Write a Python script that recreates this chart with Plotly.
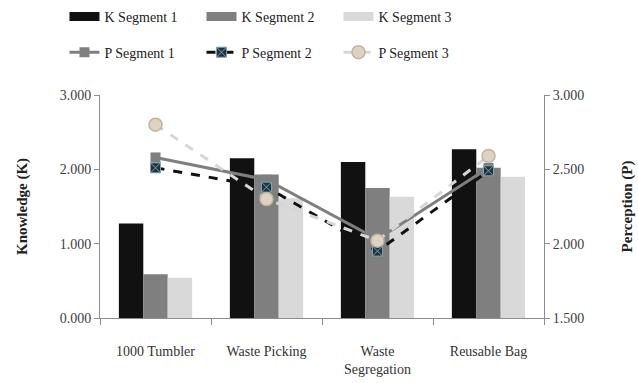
import plotly.graph_objects as go

categories = ["1000 Tumbler", "Waste Picking", "Waste<br>Segregation", "Reusable Bag"]

# Knowledge scores (left axis)
k_seg1 = [1.27, 2.15, 2.10, 2.27]
k_seg2 = [0.59, 1.93, 1.75, 2.02]
k_seg3 = [0.54, 1.61, 1.63, 1.90]

# Perception scores (right axis)
p_seg1 = [2.58, 2.43, 2.03, 2.51]
p_seg2 = [2.51, 2.38, 1.95, 2.49]
p_seg3 = [2.80, 2.30, 2.02, 2.59]

serif = "Liberation Serif, Times New Roman, serif"

fig = go.Figure()

bar_styles = [("K Segment 1", k_seg1, "#111111"),
              ("K Segment 2", k_seg2, "#7f7f7f"),
              ("K Segment 3", k_seg3, "#d9d9d9")]
for name, vals, col in bar_styles:
    fig.add_trace(go.Bar(x=categories, y=vals, name=name, marker_color=col,
                         marker_line_width=0, showlegend=False, yaxis="y"))

# wide swatches for the bar legend row
for name, vals, col in bar_styles:
    fig.add_trace(go.Scatter(x=[None], y=[None], mode="lines", name=name,
                             line=dict(color=col, width=9), legend="legend"))

fig.add_trace(go.Scatter(
    x=categories, y=p_seg1, name="P Segment 1", yaxis="y2", mode="lines+markers",
    line=dict(color="#7f7f7f", width=3),
    marker=dict(symbol="square", size=10, color="#7f7f7f"),
    legend="legend2"))
fig.add_trace(go.Scatter(
    x=categories, y=p_seg2, name="P Segment 2", yaxis="y2", mode="lines+markers",
    line=dict(color="#111111", width=3, dash="dash"),
    marker=dict(symbol="square-x", size=10, color="#1d3440",
                line=dict(color="#7fa0b0", width=1)),
    legend="legend2"))
fig.add_trace(go.Scatter(
    x=categories, y=p_seg3, name="P Segment 3", yaxis="y2", mode="lines+markers",
    line=dict(color="#d6d6d6", width=3, dash="dash"),
    marker=dict(symbol="circle", size=13, color="#ddd3c5",
                line=dict(color="#c4b49c", width=1.5)),
    legend="legend2"))

legend_common = dict(orientation="h", xanchor="left", yanchor="middle",
                     x=-0.08, font=dict(family=serif, size=14, color="#222222"),
                     entrywidth=92, entrywidthmode="pixels",
                     bgcolor="rgba(0,0,0,0)", traceorder="normal")

fig.update_layout(
    width=638, height=383,
    margin=dict(l=100, r=94, t=95, b=65, autoexpand=False),
    paper_bgcolor="white", plot_bgcolor="white",
    barmode="group", bargap=0.34, bargroupgap=0,
    font=dict(family=serif, size=13, color="#404040"),
    legend=dict(y=1.35, **legend_common),
    legend2=dict(y=1.19, **legend_common),
    xaxis=dict(showline=True, linecolor="#8c8c8c", linewidth=1,
               ticks="outside", tickson="boundaries", ticklen=6, tickcolor="#8c8c8c",
               tickfont=dict(family=serif, size=14, color="#333333"),
               ticklabelstandoff=20, showgrid=False),
    yaxis=dict(range=[0, 3], dtick=1, tickformat=".3f", showline=True,
               linecolor="#8c8c8c", ticks="outside", ticklen=5, tickcolor="#8c8c8c",
               showgrid=False, zeroline=False,
               tickfont=dict(family=serif, size=14, color="#404040"),
               title=dict(text="<b>Knowledge (K)</b>", standoff=28,
                          font=dict(family=serif, size=15, color="#222222"))),
    yaxis2=dict(range=[1.5, 3], dtick=0.5, tickformat=".3f", overlaying="y",
                side="right", showline=True, linecolor="#8c8c8c", ticks="outside",
                ticklen=5, tickcolor="#8c8c8c", showgrid=False, zeroline=False,
                tickfont=dict(family=serif, size=14, color="#404040"),
                title=dict(text="<b>Perception (P)</b>", standoff=38,
                           font=dict(family=serif, size=15, color="#222222"))),
)

fig.write_html("out.html")
